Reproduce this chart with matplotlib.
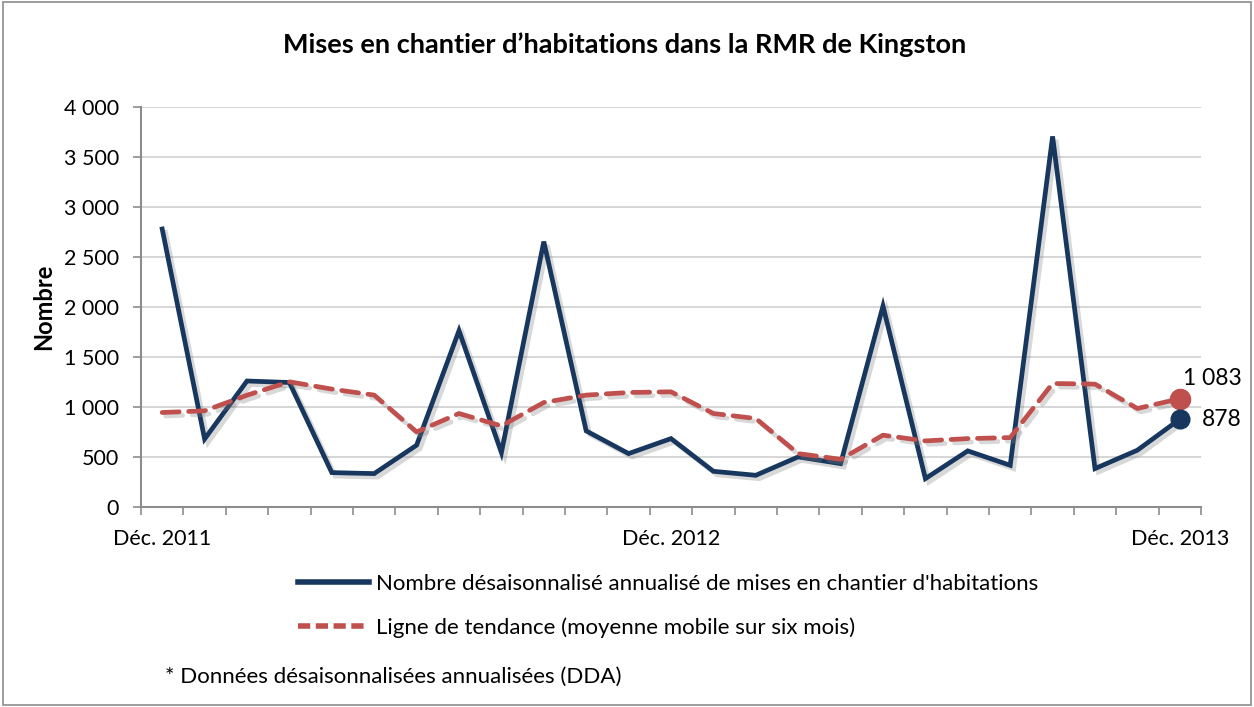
import matplotlib
matplotlib.use('Agg')
import matplotlib.pyplot as plt
import matplotlib.patheffects as pe
from matplotlib.lines import Line2D
from matplotlib.patches import Rectangle
from matplotlib.ticker import FuncFormatter, MultipleLocator, FixedLocator

plt.rcParams['font.family'] = ['Lato', 'DejaVu Sans']

# Données (DDA) : déc. 2011 à déc. 2013
mises_en_chantier = [2780, 680, 1260, 1245, 344, 334, 618, 1763, 544, 2654,
                     761, 534, 684, 357, 317, 501, 434, 2010, 284, 561,
                     417, 3706, 384, 568, 878]
tendance = [945, 962, 1118, 1252, 1179, 1119, 751, 935, 811, 1045,
            1119, 1145, 1152, 935, 885, 534, 477, 718, 661, 684,
            694, 1235, 1229, 985, 1083]
etiquettes_x = {0: 'Déc. 2011', 12: 'Déc. 2012', 24: 'Déc. 2013'}

BLEU = '#17375E'
ROUGE = '#C0504D'

fig = plt.figure(figsize=(12.54, 7.07), dpi=100)
ax = fig.add_axes([141 / 1254, 1 - 507 / 707, 1060 / 1254, 400 / 707])

ombre = [pe.SimpleLineShadow(offset=(2.5, -2.5), shadow_color='#7f7f7f', alpha=0.3),
         pe.Normal()]

x = list(range(len(mises_en_chantier)))
ax.plot(x, mises_en_chantier, color=BLEU, lw=3.4, solid_joinstyle='miter',
        path_effects=ombre, zorder=3)
ax.plot(x, tendance, color=ROUGE, lw=3.4, dashes=(3.6, 2.0), dash_capstyle='round',
        path_effects=ombre, zorder=4)

# points finaux et étiquettes
ax.plot(x[-1], tendance[-1], 'o', color=ROUGE, ms=14.5, zorder=5)
ax.plot(x[-1], mises_en_chantier[-1], 'o', color=BLEU, ms=13.5, zorder=5)
fmt = lambda v: f'{int(v):,}'.replace(',', ' ')
ax.annotate(fmt(tendance[-1]), (x[-1], tendance[-1]), xytext=(62, 20),
            textcoords='offset pixels', fontsize=16.5, ha='right', va='center')
ax.annotate(fmt(mises_en_chantier[-1]), (x[-1], mises_en_chantier[-1]), xytext=(62, 0),
            textcoords='offset pixels', fontsize=16.5, ha='right', va='center')

ax.set_xlim(-0.5, len(x) - 0.5)
ax.set_ylim(0, 4000)
ax.yaxis.set_major_locator(MultipleLocator(500))
ax.yaxis.set_major_formatter(FuncFormatter(lambda v, p: fmt(v)))
ax.xaxis.set_major_locator(FixedLocator(list(etiquettes_x.keys())))
ax.set_xticklabels(list(etiquettes_x.values()))
ax.xaxis.set_minor_locator(FixedLocator([i - 0.5 for i in range(len(x) + 1)]))
ax.tick_params(axis='x', which='major', length=0, pad=16, labelsize=15.5)
ax.tick_params(axis='x', which='minor', length=6, color='#8c8c8c', width=1.2)
ax.tick_params(axis='y', length=6, color='#8c8c8c', width=1.2, labelsize=15.5, pad=10)

ax.grid(axis='y', color='#d0d0d0', lw=1.2)
ax.set_axisbelow(True)
for s in ['top', 'right']:
    ax.spines[s].set_visible(False)
for s in ['left', 'bottom']:
    ax.spines[s].set_color('#8c8c8c')
    ax.spines[s].set_linewidth(1.5)

ax.set_ylabel('Nombre', fontsize=17, fontweight='bold', labelpad=6)
fig.text(625 / 1254, 1 - 45 / 707, 'Mises en chantier d’habitations dans la RMR de Kingston',
         ha='center', va='center', fontsize=19.5, fontweight='bold')

poignees = [Line2D([], [], color=BLEU, lw=4),
            Line2D([], [], color=ROUGE, lw=4, dashes=(2.2, 1.0))]
textes = ["Nombre désaisonnalisé annualisé de mises en chantier d'habitations",
          'Ligne de tendance (moyenne mobile sur six mois)']
fig.legend(poignees, textes, loc='upper left', bbox_to_anchor=(298 / 1254, 1 - 574 / 707),
           frameon=False, fontsize=16, handlelength=3.2, handletextpad=0.3,
           labelspacing=1.05, borderaxespad=0, borderpad=0)

fig.text(165 / 1254, 1 - 677 / 707, '* Données désaisonnalisées annualisées (DDA)',
         ha='left', va='center', fontsize=16)

fig.patches.append(Rectangle((0.002, 0.003), 0.996, 0.994, transform=fig.transFigure,
                             fill=False, edgecolor='#8c8c8c', lw=1.2))

fig.savefig('out.png', dpi=100)
